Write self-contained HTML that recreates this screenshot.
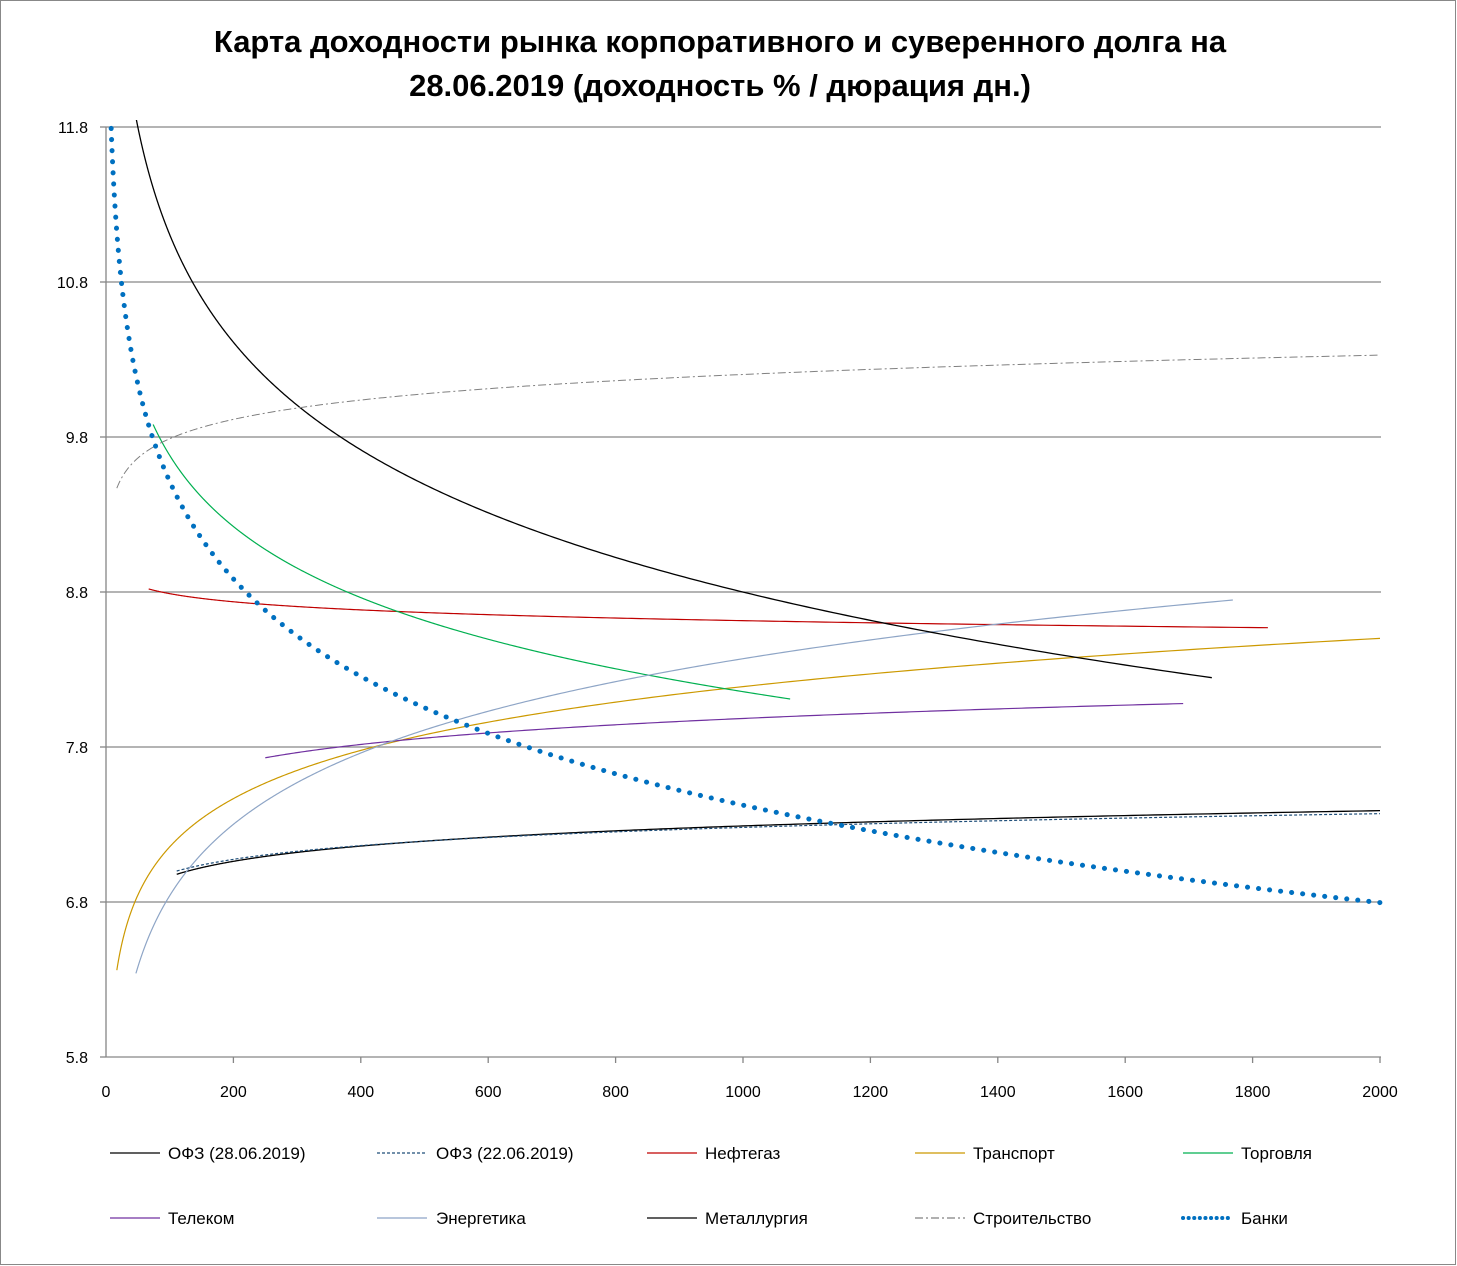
<!DOCTYPE html>
<html><head><meta charset="utf-8"><style>
html,body{margin:0;padding:0;background:#fff}
svg{display:block;font-family:"Liberation Sans",sans-serif}
</style></head><body>
<svg id="s" width="1457" height="1266" viewBox="0 0 1457 1266" xmlns="http://www.w3.org/2000/svg">
<rect x="0.5" y="0.5" width="1455" height="1264" fill="#fff" stroke="#888"/>
<text x="720" y="52" text-anchor="middle" font-size="31" font-weight="bold">Карта доходности рынка корпоративного и суверенного долга на</text>
<text x="720" y="96" text-anchor="middle" font-size="31" font-weight="bold">28.06.2019 (доходность % / дюрация дн.)</text>
<g stroke="#868686" stroke-width="1.3">
<line x1="106" y1="127" x2="1381" y2="127"/><line x1="106" y1="282" x2="1381" y2="282"/>
<line x1="106" y1="437" x2="1381" y2="437"/><line x1="106" y1="592" x2="1381" y2="592"/>
<line x1="106" y1="747" x2="1381" y2="747"/><line x1="106" y1="902" x2="1381" y2="902"/>
<line x1="106" y1="1057" x2="1381" y2="1057"/><line x1="106" y1="127" x2="106" y2="1057"/>
<line x1="100" y1="127" x2="106" y2="127"/><line x1="100" y1="282" x2="106" y2="282"/>
<line x1="100" y1="437" x2="106" y2="437"/><line x1="100" y1="592" x2="106" y2="592"/>
<line x1="100" y1="747" x2="106" y2="747"/><line x1="100" y1="902" x2="106" y2="902"/>
<line x1="100" y1="1057" x2="106" y2="1057"/>
<line x1="233.4" y1="1057" x2="233.4" y2="1063"/><line x1="360.8" y1="1057" x2="360.8" y2="1063"/>
<line x1="488.2" y1="1057" x2="488.2" y2="1063"/><line x1="615.6" y1="1057" x2="615.6" y2="1063"/>
<line x1="743" y1="1057" x2="743" y2="1063"/><line x1="870.4" y1="1057" x2="870.4" y2="1063"/>
<line x1="997.8" y1="1057" x2="997.8" y2="1063"/><line x1="1125.2" y1="1057" x2="1125.2" y2="1063"/>
<line x1="1252.6" y1="1057" x2="1252.6" y2="1063"/><line x1="1380" y1="1057" x2="1380" y2="1063"/>
</g>
<g font-size="16" text-anchor="end">
<text x="88" y="133">11.8</text><text x="88" y="288">10.8</text><text x="88" y="443">9.8</text>
<text x="88" y="598">8.8</text><text x="88" y="753">7.8</text><text x="88" y="908">6.8</text><text x="88" y="1063">5.8</text>
</g>
<g font-size="16" text-anchor="middle">
<text x="106" y="1097">0</text><text x="233.4" y="1097">200</text><text x="360.8" y="1097">400</text>
<text x="488.2" y="1097">600</text><text x="615.6" y="1097">800</text><text x="743" y="1097">1000</text>
<text x="870.4" y="1097">1200</text><text x="997.8" y="1097">1400</text><text x="1125.2" y="1097">1600</text>
<text x="1252.6" y="1097">1800</text><text x="1380" y="1097">2000</text>
</g>
<defs><clipPath id="c"><rect x="106" y="120" width="1280" height="940"/></clipPath></defs>
<g id="curves" clip-path="url(#c)" fill="none"></g>
<g font-size="17" stroke-width="1.3">
<line x1="110" y1="1153" x2="160" y2="1153" stroke="#000"/><text x="168" y="1159">ОФЗ (28.06.2019)</text>
<line x1="377" y1="1153" x2="427" y2="1153" stroke="#1F4E79" stroke-dasharray="3,2"/><text x="436" y="1159">ОФЗ (22.06.2019)</text>
<line x1="647" y1="1153" x2="697" y2="1153" stroke="#C00000"/><text x="705" y="1159">Нефтегаз</text>
<line x1="915" y1="1153" x2="965" y2="1153" stroke="#CC9900"/><text x="973" y="1159">Транспорт</text>
<line x1="1183" y1="1153" x2="1233" y2="1153" stroke="#00B050"/><text x="1241" y="1159">Торговля</text>
<line x1="110" y1="1218" x2="160" y2="1218" stroke="#7030A0"/><text x="168" y="1224">Телеком</text>
<line x1="377" y1="1218" x2="427" y2="1218" stroke="#8EA5C6"/><text x="436" y="1224">Энергетика</text>
<line x1="647" y1="1218" x2="697" y2="1218" stroke="#000"/><text x="705" y="1224">Металлургия</text>
<line x1="915" y1="1218" x2="965" y2="1218" stroke="#808080" stroke-dasharray="8,3,2,3"/><text x="973" y="1224">Строительство</text>
<line x1="1183" y1="1218" x2="1233" y2="1218" stroke="#0070C0" stroke-width="4" stroke-dasharray="0.1,5.5" stroke-linecap="round"/><text x="1241" y="1224">Банки</text>
</g>
</svg>
<script>
var X=function(d){return 106+d*0.637},Y=function(v){return 127+(11.8-v)*155};
var S=[
[6.31,0.142,111,2000,"#000",1.3,""],
[6.397,0.128,111,2000,"#1F4E79",1.2,"3,2"],
[9.138,-0.0757,67,1824,"#C00000",1.2,""],
[5.088,0.449,17,2000,"#CC9900",1.2,""],
[12.73,-0.662,74,1074,"#00B050",1.2,""],
[6.72,0.183,250,1691,"#7030A0",1.2,""],
[3.783,0.664,47,1769,"#8EA5C6",1.2,""],
[15.717,-1.0014,45,1736,"#000",1.3,""],
[8.96,0.18,17,2000,"#808080",1,"8,3,2,3"],
[13.69,-0.907,7.5,2000,"#0070C0",5,"0.1,11"]
];
var g=document.getElementById("curves"),ns="http://www.w3.org/2000/svg";
S.forEach(function(s){var p="";for(var i=0;i<=400;i++){var d=s[2]*Math.pow(s[3]/s[2],i/400);var v=s[0]+s[1]*Math.log(d);p+=(i?"L":"M")+X(d).toFixed(2)+","+Y(v).toFixed(2);}
var e=document.createElementNS(ns,"path");e.setAttribute("d",p);e.setAttribute("stroke",s[4]);e.setAttribute("stroke-width",s[5]);
if(s[6])e.setAttribute("stroke-dasharray",s[6]);if(s[5]>3)e.setAttribute("stroke-linecap","round");g.appendChild(e);});
</script>
</body></html>
